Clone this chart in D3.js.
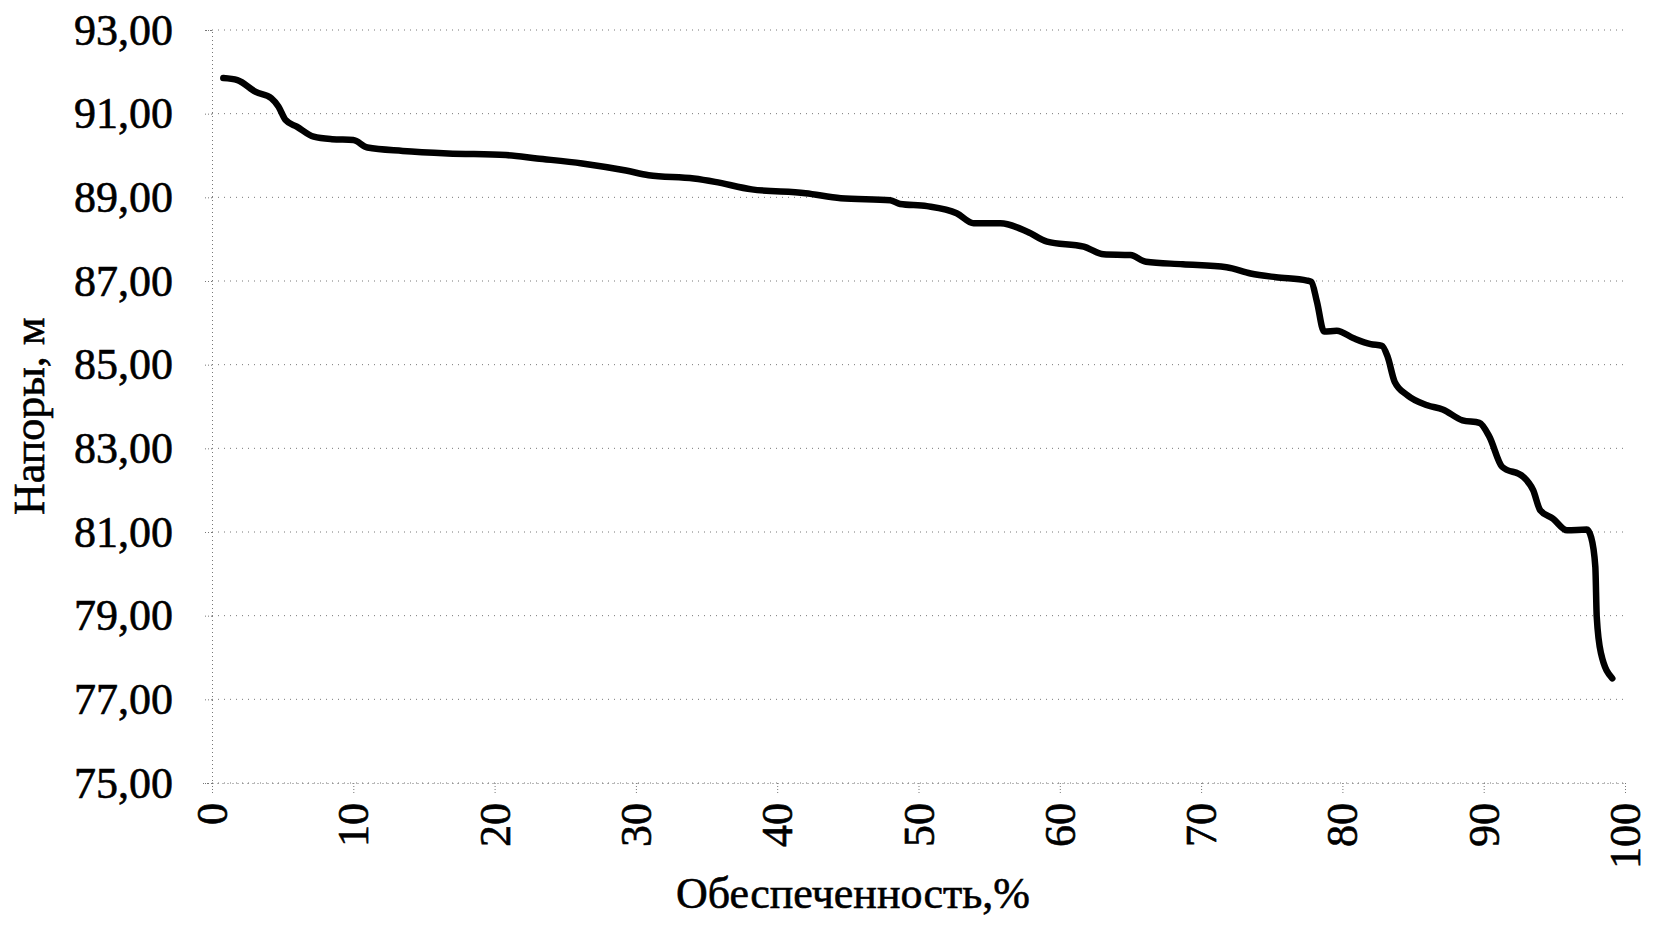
<!DOCTYPE html>
<html>
<head>
<meta charset="utf-8">
<script src="https://cdn.jsdelivr.net/npm/d3@7"></script>
<style>
  html, body { margin: 0; padding: 0; background: #fff; }
</style>
</head>
<body>
<div id="chart"></div>
<script>
// обеспеченность, % и напоры, м
const pct = [
  0.8, 1.8, 3.1, 4.2, 4.7, 5.2, 6.0, 7.2, 8.5, 10.0, 11.0, 13.5, 16.7, 20.8,
  23.0, 26.2, 29.3, 30.9, 34.1, 35.6, 38.2, 42.0, 44.5, 48.0, 48.7, 50.6,
  52.7, 53.9, 55.8, 57.7, 59.1, 61.7, 63.1, 65.0, 66.1, 68.7, 71.8, 73.5,
  75.3, 77.5, 77.8, 78.2, 78.7, 79.6, 80.8, 82.0, 82.8, 83.2, 83.7, 84.6,
  86.0, 87.1, 88.5, 89.7, 90.4, 91.3, 92.8, 93.5, 94.0, 94.9, 95.9, 97.3,
  97.6, 97.9, 98.0, 98.3, 99.1
];
const head = [
  91.85, 91.80, 91.52, 91.37, 91.17, 90.85, 90.69, 90.45, 90.39, 90.37, 90.19,
  90.11, 90.05, 90.01, 89.93, 89.81, 89.64, 89.53, 89.45, 89.37, 89.19, 89.10,
  88.98, 88.93, 88.84, 88.79, 88.62, 88.38, 88.38, 88.18, 87.94, 87.82, 87.64,
  87.62, 87.46, 87.40, 87.33, 87.18, 87.09, 87.01, 86.98, 86.50, 85.79, 85.81,
  85.63, 85.49, 85.45, 85.19, 84.59, 84.27, 84.03, 83.93, 83.67, 83.61, 83.28,
  82.56, 82.32, 82.00, 81.52, 81.32, 81.04, 81.06, 80.88, 80.17, 78.97, 78.10,
  77.50
];
const xTicks = [0, 10, 20, 30, 40, 50, 60, 70, 80, 90, 100];
const yTicks = [75, 77, 79, 81, 83, 85, 87, 89, 91, 93];

window.addEventListener("load", () => {
  const width = 1654;
  const height = 929;
  const margin = { top: 30, right: 29, bottom: 146, left: 212 };

  const textColor = "#000";
  const gridColor = "#777";
  const fontFamily = "'Liberation Serif', 'Times New Roman', serif";

  const svg = d3
    .select("#chart")
    .append("svg")
    .attr("width", width)
    .attr("height", height)
    .style("font-family", fontFamily);

  const x = d3
    .scaleLinear()
    .domain([0, 100])
    .range([margin.left, width - margin.right]);
  const y = d3
    .scaleLinear()
    .domain([75, 93])
    .range([height - margin.bottom, margin.top]);

  // горизонтальная сетка
  svg
    .append("g")
    .selectAll("line")
    .data(yTicks)
    .join("line")
    .attr("x1", x(0))
    .attr("x2", x(100))
    .attr("y1", (d) => y(d))
    .attr("y2", (d) => y(d))
    .attr("stroke", gridColor)
    .attr("stroke-width", 1)
    .attr("stroke-dasharray", "1,5");

  // ось Y
  const yAxis = svg
    .append("g")
    .attr("transform", `translate(${x(0)},0)`)
    .call(
      d3
        .axisLeft(y)
        .tickValues(yTicks)
        .tickSize(9)
        .tickPadding(30)
        .tickFormat((d) => d3.format(".2f")(d).replace(".", ","))
    );
  yAxis.select(".domain").attr("stroke", gridColor).attr("stroke-dasharray", "1,3");
  yAxis.selectAll(".tick line").attr("stroke", gridColor).attr("stroke-dasharray", "1,2");
  yAxis
    .selectAll(".tick text")
    .attr("fill", textColor)
    .attr("font-size", "44px")
    .attr("font-family", fontFamily)
    .attr("stroke", textColor)
    .attr("stroke-width", 0.6);

  // ось X
  const xAxis = svg
    .append("g")
    .attr("transform", `translate(0,${y(75)})`)
    .call(d3.axisBottom(x).tickValues(xTicks).tickSize(12).tickSizeOuter(0));
  xAxis.select(".domain").attr("stroke", gridColor).attr("stroke-dasharray", "1,4");
  xAxis.selectAll(".tick line").attr("stroke", gridColor).attr("stroke-dasharray", "1,2");
  xAxis
    .selectAll(".tick text")
    .attr("fill", textColor)
    .attr("font-size", "44px")
    .attr("font-family", fontFamily)
    .attr("stroke", textColor)
    .attr("stroke-width", 0.6)
    .attr("text-anchor", "end")
    .attr("transform", "rotate(-90)")
    .attr("x", -20)
    .attr("y", 0)
    .attr("dy", "0.33em");

  // линия
  const points = pct.map((p, i) => [p, head[i]]);
  svg
    .append("path")
    .datum(points)
    .attr("fill", "none")
    .attr("stroke", "#000")
    .attr("stroke-width", 6.5)
    .attr("stroke-linejoin", "round")
    .attr("stroke-linecap", "round")
    .attr(
      "d",
      d3
        .line()
        .x((d) => x(d[0]))
        .y((d) => y(d[1]))
        .curve(d3.curveMonotoneX)
    );

  // подписи осей
  svg
    .append("text")
    .attr("transform", `translate(44,515) rotate(-90)`)
    .attr("text-anchor", "start")
    .attr("font-size", "44px")
    .attr("fill", textColor)
    .attr("stroke", textColor)
    .attr("stroke-width", 0.6)
    .text("Напоры, м");

  svg
    .append("text")
    .attr("x", 853)
    .attr("y", 908)
    .attr("text-anchor", "middle")
    .attr("font-size", "44px")
    .attr("fill", textColor)
    .attr("stroke", textColor)
    .attr("stroke-width", 0.6)
    .text("Обеспеченность,%");
});
</script>
</body>
</html>
